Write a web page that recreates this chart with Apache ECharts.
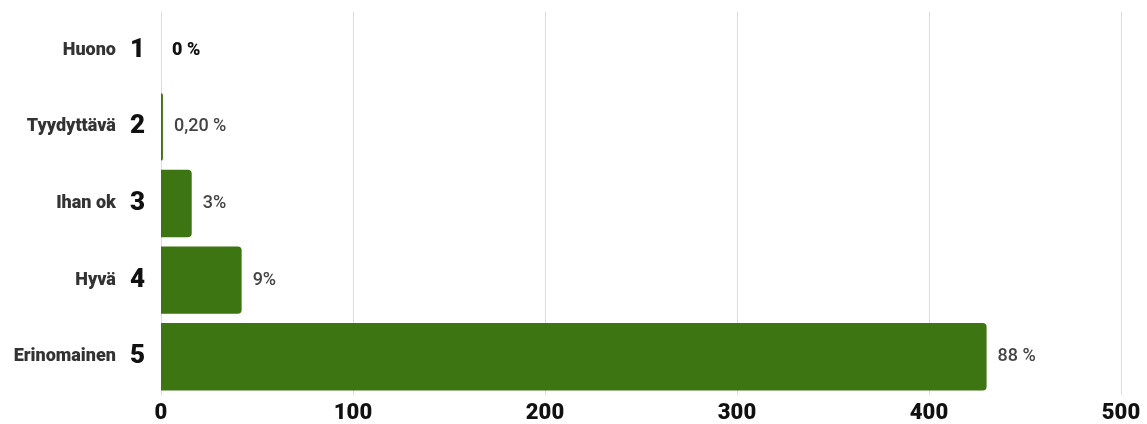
<!DOCTYPE html>
<html><head><meta charset="utf-8">
<script src="https://cdn.jsdelivr.net/npm/echarts@6/dist/echarts.min.js"></script>
<style>html,body{margin:0;padding:0;background:#fff}#c{width:1147px;height:424px}</style>
</head><body><div id="c"></div>
<script>
const names = ['Huono','Tyydyttävä','Ihan ok','Hyvä','Erinomainen'];
const grades = ['1','2','3','4','5'];
const values = [0, 1, 16, 42, 430];
const pctLabels = ['0 %','0,20 %','3%','9%','88 %'];
const xTicks = [0, 100, 200, 300, 400, 500];

const chart = echarts.init(document.getElementById('c'));
chart.setOption({
  animation: false,
  grid: {left: 161, right: 26, top: 12, bottom: 28, containLabel: false},
  xAxis: {
    type: 'value', min: xTicks[0], max: xTicks[xTicks.length-1], interval: 100,
    axisLine: {show: false}, axisTick: {show: false},
    splitLine: {lineStyle: {color: '#dcdcdc', width: 1}},
    axisLabel: {fontFamily: 'Roboto', fontWeight: 900, fontSize: 22, color: '#111', margin: 7}
  },
  yAxis: {
    type: 'category', inverse: true,
    data: names.map((n, i) => n + '|' + grades[i]),
    axisLine: {lineStyle: {color: '#dcdcdc', width: 1}}, axisTick: {show: false},
    axisLabel: {
      margin: 16,
      formatter: v => { const p = v.split('|'); return '{n|' + p[0] + '}{g|' + p[1] + '}'; },
      rich: {
        n: {fontFamily: 'Roboto', fontWeight: 900, fontSize: 18, color: '#333', padding: [0, 14, 0, 0]},
        g: {fontFamily: 'Roboto', fontWeight: 900, fontSize: 26, color: '#111'}
      }
    }
  },
  series: [{
    type: 'bar', data: values, barCategoryGap: '12%',
    itemStyle: {color: '#3e7513', borderRadius: [0, 4, 4, 0]},
    label: {
      show: true, position: 'right', distance: 11,
      formatter: p => p.dataIndex === 0 ? '{b|' + pctLabels[0] + '}' : pctLabels[p.dataIndex],
      fontFamily: 'Roboto', fontWeight: 500, fontSize: 18, color: '#444',
      rich: {b: {fontFamily: 'Roboto', fontWeight: 900, fontSize: 18, color: '#111'}}
    }
  }]
});
</script></body></html>
